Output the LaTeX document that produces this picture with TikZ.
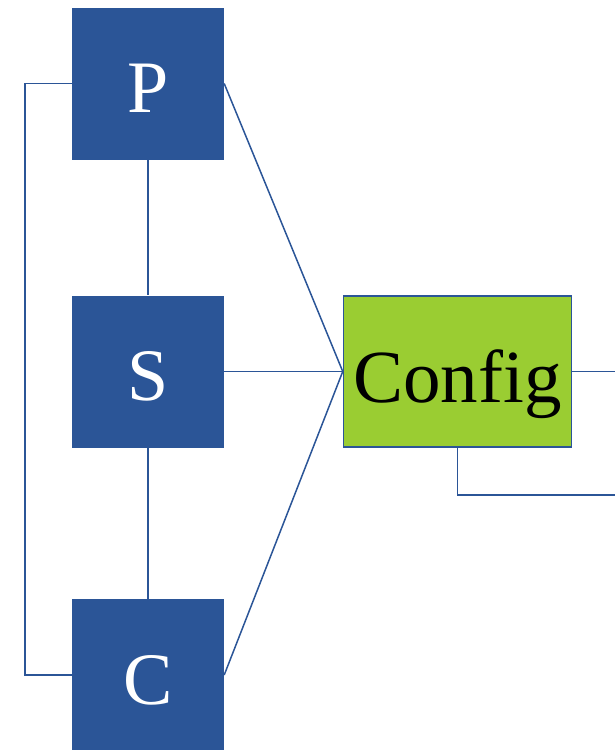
\documentclass[tikz,border=0pt]{standalone}
\usepackage{fontspec}
\setmainfont{Liberation Serif}
\usetikzlibrary{positioning}
\definecolor{deepblue}{HTML}{2B5597}
\definecolor{leafgreen}{HTML}{9ACD32}

\begin{document}
\begin{tikzpicture}[x=1pt,y=-1pt,
  box/.style={fill=deepblue,text=white,minimum width=152pt,minimum height=152pt,inner sep=0pt,
    text height=60pt,text depth=2pt,font=\fontsize{74}{74}\selectfont},
  cfgbox/.style={draw=deepblue,line width=1.5pt,fill=leafgreen,minimum width=228pt,minimum height=151pt,inner sep=0pt,
    text height=70pt,text depth=9pt,font=\fontsize{75}{75}\selectfont},
  link/.style={draw=deepblue,line width=1.5pt}]
\useasboundingbox (0,0) rectangle (615,750);
\clip (0,0) rectangle (615,750);
\node[box] (P) at (148,83.5) {P};
\node[box] (S) at (148,371.5) {S};
\node[box] (C) at (148,675) {C};
\node[cfgbox] (config) at (457.5,371.5) {Config};
\coordinate (loop) at (25,0);
\coordinate (rim) at (615,0);
\coordinate (out) at (615,495);
\draw[link] (P)--(S);
\draw[link] (S)--(C);
\draw[link] (P.east)--(config.west);
\draw[link] (S.east)--(config.west);
\draw[link] (C.east)--(config.west);
\draw[link] (P.west)--(P.west -| loop)--(C.west -| loop)--(C.west);
\draw[link] (config.east)--(config.east -| rim);
\draw[link] (config.south) |- (out);
\end{tikzpicture}
\end{document}
